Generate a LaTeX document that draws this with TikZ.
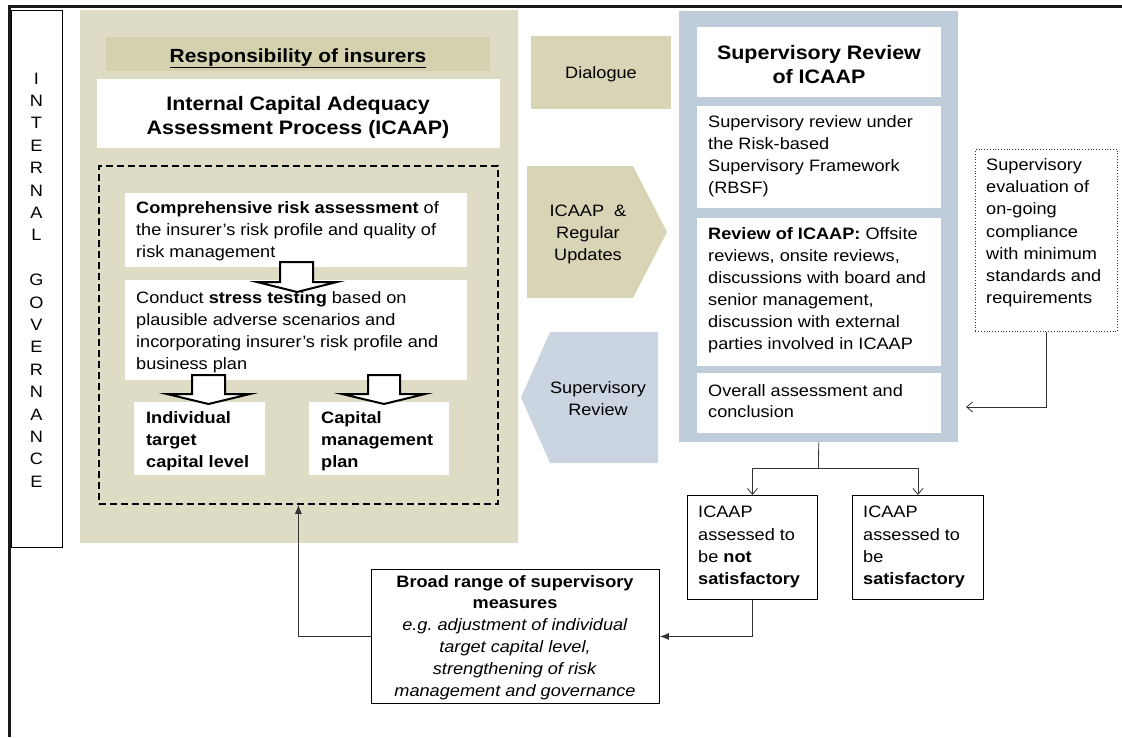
\documentclass[tikz,border=0pt]{standalone}
\usepackage{fontspec}
\setmainfont{Liberation Sans}[FakeStretch=1.1]
\usetikzlibrary{arrows.meta}
\definecolor{panelK}{RGB}{222,220,196}
\definecolor{headK}{RGB}{211,209,174}
\definecolor{dlgK}{RGB}{216,213,182}
\definecolor{blueP}{RGB}{191,204,218}
\definecolor{blueA}{RGB}{203,213,225}
\newcommand{\bodyf}{\fontsize{16.5}{22}\selectfont}
\newcommand{\titlef}{\fontsize{19.5}{24}\selectfont}
\frenchspacing
\begin{document}
\begin{tikzpicture}[x=1pt,y=-1pt,
  rbox/.style={rectangle, inner sep=0pt, anchor=north west},
  wbox/.style={rbox, fill=white},
  lbox/.style={rbox, fill=white, draw=black, line width=0.9pt},
  txt/.style={inner sep=0pt, align=left, font=\bodyf, anchor=north west},
  ctxt/.style={inner sep=0pt, align=center, font=\bodyf, anchor=north},
  blockarrow/.style={fill=white, draw=black, line width=2pt, line join=miter},
  conn/.style={draw=black!80, line width=0.8pt},
  openarr/.style={conn, -{Straight Barb[length=6pt,width=10pt]}},
  fillarr/.style={conn, -{Latex[length=9pt,width=7pt]}}
]
\useasboundingbox (0,0) rectangle (1122,737);
% outer frame (top and left edges)
\draw[line width=3pt, black!90] (9,737) -- (9,6.5) -- (1122,6.5);

% internal governance column
\node[rbox, draw=black, line width=0.9pt, minimum width=51pt, minimum height=537pt] (gov) at (11,10) {};
\node[inner sep=0pt, align=center, font=\fontsize{16.5}{22.4}\selectfont] (govtxt) at (36.5,280)
  {I\\N\\T\\E\\R\\N\\A\\L\\[22.4pt]G\\O\\V\\E\\R\\N\\A\\N\\C\\E};

% left khaki panel
\node[rbox, fill=panelK, minimum width=438pt, minimum height=533pt] (lpanel) at (80,10) {};
\node[rbox, fill=headK, minimum width=384pt, minimum height=34pt] (header) at (106,37) {};
\node[inner sep=0pt, font=\fontsize{19}{24}\selectfont\bfseries, anchor=base] (headtxt) at (298,62)
  {\underline{Responsibility of insurers}};
\node[wbox, minimum width=403pt, minimum height=69pt] (icaapbox) at (97,79) {};
\node[ctxt, font=\titlef\bfseries] (icaaptxt) at (298,96)
  {Internal Capital Adequacy\\Assessment Process (ICAAP)};
\node[rbox, draw=black, dashed, dash pattern=on 7pt off 4pt, line width=1.8pt,
  minimum width=399pt, minimum height=338pt] (dashbox) at (98,165) {};

\node[wbox, minimum width=342pt, minimum height=74pt] (comp) at (125,193) {};
\node[txt] (comptxt) at (136,201)
  {\textbf{Comprehensive risk assessment} of\\the insurer’s risk profile and quality of\\risk management};
\node[wbox, minimum width=342pt, minimum height=100pt] (cond) at (125,280) {};
\node[txt] (condtxt) at (136,291)
  {Conduct \textbf{stress testing} based on\\plausible adverse scenarios and\\incorporating insurer’s risk profile and\\business plan};
\node[wbox, minimum width=131pt, minimum height=73pt] (indiv) at (134,402) {};
\node[txt, font=\bodyf\bfseries] (indivtxt) at (146,411) {Individual\\target\\capital level};
\node[wbox, minimum width=140pt, minimum height=73pt] (capm) at (309,402) {};
\node[txt, font=\bodyf\bfseries] (capmtxt) at (321,411) {Capital\\management\\plan};

% block arrows
\draw[blockarrow] (280,262) -- (280,282) -- (257,282) -- (297,292) -- (337,282) -- (313,282) -- (313,262) -- cycle;
\draw[blockarrow] (192,375) -- (192,394) -- (167,394) -- (208.5,404) -- (250,394) -- (225,394) -- (225,375) -- cycle;
\draw[blockarrow] (368,375) -- (368,394) -- (342,394) -- (384,404) -- (425,394) -- (400,394) -- (400,375) -- cycle;

% middle column
\node[rbox, fill=dlgK, minimum width=140pt, minimum height=73pt] (dialogue) at (531,36) {};
\node[inner sep=0pt, font=\bodyf, anchor=base] (dialoguetxt) at (601,78) {Dialogue};
\fill[dlgK] (527,166) -- (633,166) -- (667,232) -- (633,298) -- (527,298) -- cycle;
\node[ctxt] (updtxt) at (588,205) {ICAAP\ \ \&\\Regular\\Updates};
\fill[blueA] (550,332) -- (658,332) -- (658,463) -- (550,463) -- (521,397.5) -- cycle;
\node[ctxt] (srtxt) at (598,381) {Supervisory\\Review};

% blue panel
\node[rbox, fill=blueP, minimum width=279pt, minimum height=431pt] (bpanel) at (679,11) {};
\node[wbox, minimum width=244pt, minimum height=70pt] (srtitle) at (697,27) {};
\node[ctxt, font=\titlef\bfseries] (srtitletxt) at (819,45) {Supervisory Review\\of ICAAP};
\node[wbox, minimum width=244pt, minimum height=102pt] (rbsf) at (697,106) {};
\node[txt] (rbsftxt) at (708,115) {Supervisory review under\\the Risk-based\\Supervisory Framework\\(RBSF)};
\node[wbox, minimum width=244pt, minimum height=148pt] (review) at (697,218) {};
\node[txt] (reviewtxt) at (708,227) {\textbf{Review of ICAAP:} Offsite\\reviews, onsite reviews,\\discussions with board and\\senior management,\\discussion with external\\parties involved in ICAAP};
\node[wbox, minimum width=244pt, minimum height=60pt] (overall) at (697,373) {};
\node[txt, font=\fontsize{16.5}{21.5}\selectfont] (overalltxt) at (708,384) {Overall assessment and\\conclusion};

% evaluation box
\node[rbox, fill=white, draw=black!80, dotted, line width=0.8pt, minimum width=142pt, minimum height=182pt] (evalbox) at (975,149) {};
\node[txt, font=\fontsize{16.5}{22.3}\selectfont] (evaltxt) at (986,158) {Supervisory\\evaluation of\\on-going\\compliance\\with minimum\\standards and\\requirements};

% outcome boxes
\node[lbox, minimum width=130pt, minimum height=104pt] (notsat) at (687,495) {};
\node[txt, font=\fontsize{16.5}{22.3}\selectfont] (notsattxt) at (698,506) {ICAAP\\assessed to\\be \textbf{not}\\\textbf{satisfactory}};
\node[lbox, minimum width=131pt, minimum height=104pt] (sat) at (852,495) {};
\node[txt, font=\fontsize{16.5}{22.3}\selectfont] (sattxt) at (863,506) {ICAAP\\assessed to\\be\\\textbf{satisfactory}};
\node[lbox, minimum width=288pt, minimum height=134pt] (broad) at (371,569) {};
\node[ctxt, font=\fontsize{16.5}{21.8}\selectfont] (broadtxt) at (515,575)
  {\textbf{Broad range of supervisory}\\\textbf{measures}\\\textit{e.g.\ adjustment of individual}\\\textit{target capital level,}\\\textit{strengthening of risk}\\\textit{management and governance}};

% connectors
\coordinate (split) at (818.5,468);
\coordinate (evalend) at (966,407);
\draw[conn] (bpanel.south) -- (split);
\draw[openarr] (split) -| (notsat.north);
\draw[openarr] (split) -| (sat.north);
\draw[openarr] (evalbox.south) |- (evalend);
\draw[fillarr] (notsat.south) |- (broad.east);
\draw[fillarr] (broad.west) -| (dashbox.south);
\end{tikzpicture}
\end{document}
